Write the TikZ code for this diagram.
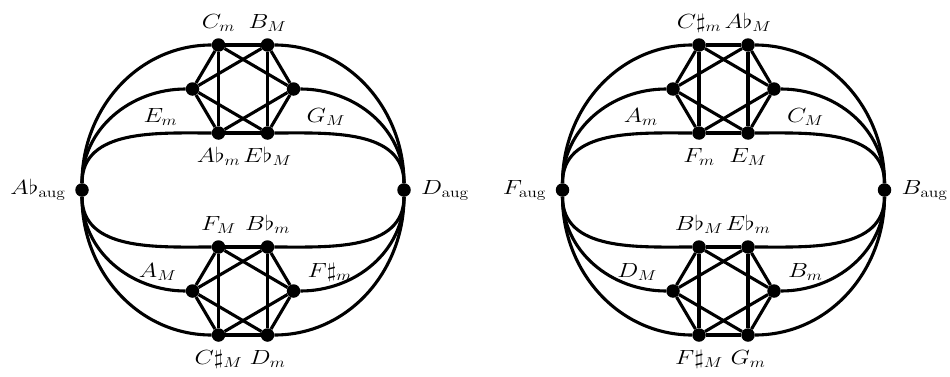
\RequirePackage{fix-cm}
\documentclass[tikz,border=0pt]{standalone}
\usepackage{graphicx}
\tikzset{
  dot/.style={circle,fill=black,inner sep=0pt,minimum size=13.5pt},
  edge/.style={line width=3.1pt},
  lbl/.style={font=\fontsize{20.5}{24}\selectfont,inner sep=0pt},
}
\newcommand\lb[1]{\scalebox{1.22}[1]{$#1$}}
% #1 = prefix, #2 = centre x
\newcommand\mygraph[2]{%
  \node[dot] (#1La) at ({#2-161},186) {};
  \node[dot] (#1Ra) at ({#2+161},186) {};
  % upper hexagon
  \node[dot] (#1Ut1) at ({#2-24.5},331) {};
  \node[dot] (#1Ut2) at ({#2+24.5},331) {};
  \node[dot] (#1Ul)  at ({#2-50.5},287) {};
  \node[dot] (#1Ur)  at ({#2+50.5},287) {};
  \node[dot] (#1Ub1) at ({#2-24.5},243) {};
  \node[dot] (#1Ub2) at ({#2+24.5},243) {};
  % lower hexagon
  \node[dot] (#1Dt1) at ({#2-24.5},129) {};
  \node[dot] (#1Dt2) at ({#2+24.5},129) {};
  \node[dot] (#1Dl)  at ({#2-50.5},85) {};
  \node[dot] (#1Dr)  at ({#2+50.5},85) {};
  \node[dot] (#1Db1) at ({#2-24.5},41) {};
  \node[dot] (#1Db2) at ({#2+24.5},41) {};
  \foreach \h in {U,D}{
    \draw[edge] (#1\h t1) -- (#1\h t2);
    \draw[edge] (#1\h t1) -- (#1\h l);
    \draw[edge] (#1\h l) -- (#1\h b1);
    \draw[edge] (#1\h b1) -- (#1\h b2);
    \draw[edge] (#1\h b2) -- (#1\h r);
    \draw[edge] (#1\h r) -- (#1\h t2);
    \draw[edge] (#1\h t1) -- (#1\h b1);
    \draw[edge] (#1\h t2) -- (#1\h b2);
    \draw[edge] (#1\h t1) -- (#1\h r);
    \draw[edge] (#1\h t2) -- (#1\h l);
    \draw[edge] (#1\h l) -- (#1\h b2);
    \draw[edge] (#1\h r) -- (#1\h b1);
  }
  \foreach \n in {t1,l,b1}{
    \draw[edge] (#1La) to[out=90,in=180] (#1U\n);
    \draw[edge] (#1La) to[out=-90,in=180] (#1D\n);
  }
  \foreach \n in {t2,r,b2}{
    \draw[edge] (#1U\n) to[out=0,in=90] (#1Ra);
    \draw[edge] (#1D\n) to[out=0,in=-90] (#1Ra);
  }
}
\begin{document}
\begin{tikzpicture}[x=1pt,y=1pt]
\useasboundingbox (0,0) rectangle (950,376);
\mygraph{A}{243}
\mygraph{B}{723.5}
% ---- labels, left graph
\node[lbl,anchor=base east] (lAa) at ([xshift=-16pt,yshift=-4pt]ALa.center) {\lb{A\flat_{\mathrm{aug}}}};
\node[lbl,anchor=base west] (lAb) at ([xshift=17pt,yshift=-4pt]ARa.center) {\lb{D_{\mathrm{aug}}}};
\node[lbl,anchor=base] (lA1) at ([yshift=17pt]AUt1.center) {\lb{C_m}};
\node[lbl,anchor=base] (lA2) at ([yshift=17pt]AUt2.center) {\lb{B_M}};
\node[lbl,anchor=base east] (lA3) at ([xshift=-15pt,yshift=-33pt]AUl.center) {\lb{E_m}};
\node[lbl,anchor=base west] (lA4) at ([xshift=13pt,yshift=-33pt]AUr.center) {\lb{G_M}};
\node[lbl,anchor=base] (lA5) at ([yshift=-29pt]AUb1.center) {\lb{A\flat_m}};
\node[lbl,anchor=base] (lA6) at ([yshift=-29pt]AUb2.center) {\lb{E\flat_M}};
\node[lbl,anchor=base] (lA7) at ([yshift=17pt]ADt1.center) {\lb{F_M}};
\node[lbl,anchor=base] (lA8) at ([yshift=17pt]ADt2.center) {\lb{B\flat_m}};
\node[lbl,anchor=base east] (lA9) at ([xshift=-16pt,yshift=14pt]ADl.center) {\lb{A_M}};
\node[lbl,anchor=base west] (lA10) at ([xshift=14pt,yshift=14pt]ADr.center) {\lb{F\sharp_m}};
\node[lbl,anchor=base] (lA11) at ([yshift=-29pt]ADb1.center) {\lb{C\sharp_M}};
\node[lbl,anchor=base] (lA12) at ([yshift=-29pt]ADb2.center) {\lb{D_m}};
% ---- labels, right graph
\node[lbl,anchor=base east] (lBa) at ([xshift=-16pt,yshift=-4pt]BLa.center) {\lb{F_{\mathrm{aug}}}};
\node[lbl,anchor=base west] (lBb) at ([xshift=17pt,yshift=-4pt]BRa.center) {\lb{B_{\mathrm{aug}}}};
\node[lbl,anchor=base] (lB1) at ([yshift=17pt]BUt1.center) {\lb{C\sharp_m}};
\node[lbl,anchor=base] (lB2) at ([yshift=17pt]BUt2.center) {\lb{A\flat_M}};
\node[lbl,anchor=base east] (lB3) at ([xshift=-15pt,yshift=-33pt]BUl.center) {\lb{A_m}};
\node[lbl,anchor=base west] (lB4) at ([xshift=13pt,yshift=-33pt]BUr.center) {\lb{C_M}};
\node[lbl,anchor=base] (lB5) at ([yshift=-29pt]BUb1.center) {\lb{F_m}};
\node[lbl,anchor=base] (lB6) at ([yshift=-29pt]BUb2.center) {\lb{E_M}};
\node[lbl,anchor=base] (lB7) at ([yshift=17pt]BDt1.center) {\lb{B\flat_M}};
\node[lbl,anchor=base] (lB8) at ([yshift=17pt]BDt2.center) {\lb{E\flat_m}};
\node[lbl,anchor=base east] (lB9) at ([xshift=-16pt,yshift=14pt]BDl.center) {\lb{D_M}};
\node[lbl,anchor=base west] (lB10) at ([xshift=14pt,yshift=14pt]BDr.center) {\lb{B_m}};
\node[lbl,anchor=base] (lB11) at ([yshift=-29pt]BDb1.center) {\lb{F\sharp_M}};
\node[lbl,anchor=base] (lB12) at ([yshift=-29pt]BDb2.center) {\lb{G_m}};
\end{tikzpicture}
\end{document}
